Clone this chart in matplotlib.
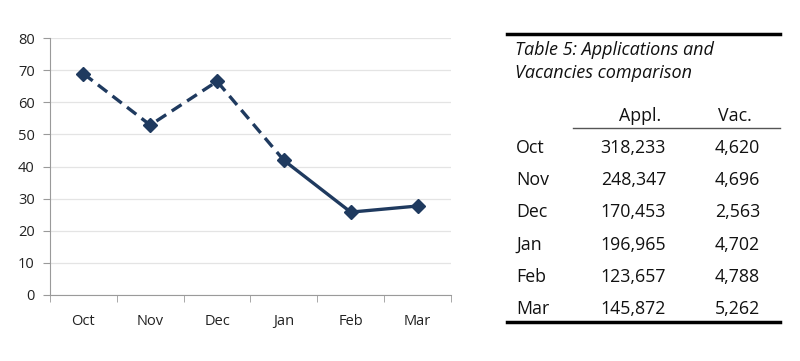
import matplotlib.pyplot as plt
import numpy as np

plt.rcParams['font.family'] = ['Open Sans', 'DejaVu Sans']

months = ['Oct', 'Nov', 'Dec', 'Jan', 'Feb', 'Mar']
ratio = [68.9, 52.9, 66.5, 41.9, 25.8, 27.7]
appl = ['318,233', '248,347', '170,453', '196,965', '123,657', '145,872']
vac = ['4,620', '4,696', '2,563', '4,702', '4,788', '5,262']
yticks = [0, 10, 20, 30, 40, 50, 60, 70, 80]

navy = '#1f3a5f'
W, H = 800, 361

fig = plt.figure(figsize=(8, 3.61), dpi=100)
ax = fig.add_axes([50 / W, 1 - 295 / H, 401 / W, 257 / H])

x = np.arange(len(months))
# dashed part Oct-Jan, solid Jan-Mar
ax.plot(x[:4], ratio[:4], color=navy, lw=2.4, ls=(0, (3.5, 2)), zorder=3)
ax.plot(x[3:], ratio[3:], color=navy, lw=2.4, zorder=3)
ax.plot(x, ratio, ls='none', marker='D', ms=7, color=navy, zorder=4)

ax.set_xlim(-0.5, 5.5)
ax.set_ylim(0, 80)
ax.set_yticks(yticks)
ax.set_xticks(x)
ax.set_xticklabels(months)
ax.set_xticks(np.arange(-0.5, 6, 1), minor=True)
ax.tick_params(axis='x', which='major', length=0, pad=14, labelsize=10.5, colors='#222222')
ax.tick_params(axis='x', which='minor', length=5, color='#9a9a9a', direction='out')
ax.tick_params(axis='y', length=5, color='#9a9a9a', labelsize=10.5, pad=6, labelcolor='#222222')
ax.grid(axis='y', color='#e4e4e4', lw=0.9)
ax.set_axisbelow(True)
for s in ['top', 'right']:
    ax.spines[s].set_visible(False)
for s in ['left', 'bottom']:
    ax.spines[s].set_color('#9a9a9a')

# table on the right
def fy(py):
    return 1 - py / H

def fx(px):
    return px / W

fig.add_artist(plt.Line2D([fx(507), fx(780)], [fy(34), fy(34)], color='black', lw=2.5))
fig.add_artist(plt.Line2D([fx(507), fx(780)], [fy(322), fy(322)], color='black', lw=2.5))
fig.add_artist(plt.Line2D([fx(573), fx(780)], [fy(128), fy(128)], color='#555555', lw=1))

fs = 12.8
fig.text(fx(515), fy(50), 'Table 5: Applications and', fontsize=13, style='italic', va='center', color='#111111')
fig.text(fx(515), fy(73), 'Vacancies comparison', fontsize=13, style='italic', va='center', color='#111111')
fig.text(fx(640), fy(116), 'Appl.', fontsize=fs, ha='center', va='center', color='#111111')
fig.text(fx(735), fy(116), 'Vac.', fontsize=fs, ha='center', va='center', color='#111111')

row_y = [148, 180, 212, 245, 277, 309]
for i in range(len(months)):
    fig.text(fx(516), fy(row_y[i]), months[i], fontsize=fs, va='center', color='#111111')
    fig.text(fx(666), fy(row_y[i]), appl[i], fontsize=fs, va='center', ha='right', color='#111111')
    fig.text(fx(760), fy(row_y[i]), vac[i], fontsize=fs, va='center', ha='right', color='#111111')

fig.savefig('out.png', dpi=100)
